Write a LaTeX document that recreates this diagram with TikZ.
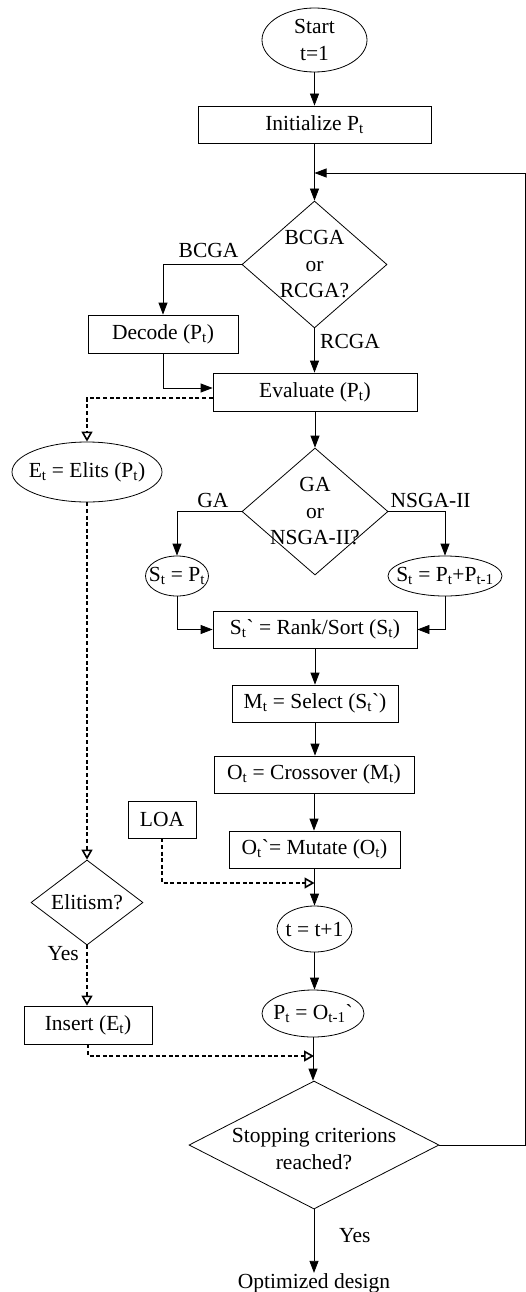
\documentclass[tikz,border=0pt]{standalone}
\usepackage{fontspec}
\setmainfont{Liberation Serif}
\newfontfamily\gfont{Liberation Serif}[Ligatures=TeXOff]
\usetikzlibrary{arrows.meta,shapes.geometric,calc}
\newcommand\ssb[1]{\textsubscript{#1}}
\newcommand\grv{{\gfont\symbol{96}}}
\begin{document}
\begin{tikzpicture}[x=1pt,y=-1pt,
 font=\fontsize{21.5}{26.5}\selectfont,
 every node/.style={inner sep=0pt},
 box/.style={draw, line width=0.8pt, rectangle, minimum width=#1, minimum height=37pt},
 ell/.style={draw, line width=0.8pt, ellipse},
 dia/.style={draw, line width=0.8pt, diamond},
 txt/.style={label={[align=center]center:#1}},
 flow/.style={line width=0.8pt, -{Triangle[length=12pt,width=9pt]}},
 dflow/.style={line width=1.9pt, dash pattern=on 4pt off 2.6pt, -{Triangle[open,length=10pt,width=11pt,line width=1.6pt]}},
]
\useasboundingbox (0,0) rectangle (526,1292);
% nodes
\node[ell, minimum width=105pt, minimum height=64pt, txt={Start\\t=1}] (start) at (314.5,40) {};
\node[box=233pt] (init) at (314.5,124.5) {Initialize P\ssb{t}};
\node[dia, minimum width=145pt, minimum height=127pt, txt={BCGA\\or\\RCGA?}] (d1) at (314.5,264.5) {};
\node[box=150pt, minimum height=38pt] (decode) at (163,334) {Decode (P\ssb{t})};
\node[box=204pt, minimum height=38pt] (eval) at (315,392) {Evaluate (P\ssb{t})};
\node[ell, minimum width=150pt, minimum height=60pt, txt={E\ssb{t} = Elits (P\ssb{t})}] (elits) at (87,472) {};
\node[dia, minimum width=146pt, minimum height=127pt, txt={GA\\or\\NSGA-II?}] (d2) at (315,511.5) {};
\node[ell, minimum width=63pt, minimum height=40pt, txt={S\ssb{t} = P\ssb{t}}] (st1) at (177,576) {};
\node[ell, minimum width=114pt, minimum height=40pt, txt={S\ssb{t} = P\ssb{t}+P\ssb{t-1}}] (st2) at (445,576) {};
\node[box=204pt] (rank) at (315,629.5) {S\ssb{t}\grv{} = Rank/Sort (S\ssb{t})};
\node[box=166pt] (select) at (315,703.5) {M\ssb{t} = Select (S\ssb{t}\grv)};
\node[box=200pt] (cross) at (314,774.5) {O\ssb{t} = Crossover (M\ssb{t})};
\node[box=171pt] (mutate) at (314.5,849.5) {O\ssb{t}\grv= Mutate (O\ssb{t})};
\node[box=68pt] (loa) at (162,819.5) {LOA};
\node[ell, minimum width=75pt, minimum height=46pt, txt={t = t+1}] (tinc) at (314.5,929) {};
\node[ell, minimum width=102pt, minimum height=47pt, txt={P\ssb{t} = O\ssb{t-1}\grv}] (pt) at (313,1013.5) {};
\node[dia, minimum width=112pt, minimum height=85pt, txt={Elitism?}] (elit) at (87,902.5) {};
\node[box=128pt, minimum height=38pt] (insert) at (88,1025) {Insert (E\ssb{t})};
\node[dia, minimum width=250pt, minimum height=128pt,
      label={[align=center,yshift=-4pt]center:Stopping criterions\\reached?}] (d3) at (314,1145) {};
\node[anchor=base] (opt) at (314,1288) {Optimized design};
% labels
\node[anchor=base east] (lb1) at ([xshift=-3pt,yshift=7pt]d1.west) {BCGA};
\node[anchor=base west] (lb2) at (320,348) {RCGA};
\node[anchor=base east] (lb3) at ([xshift=-13pt,yshift=4pt]d2.west) {GA};
\node[anchor=base west] (lb4) at ([xshift=2pt,yshift=4pt]d2.east) {NSGA-II};
\node[anchor=base east] (lb5) at (79,960) {Yes};
\node[anchor=base west] (lb6) at (339,1242) {Yes};
% coordinates
\coordinate (j1) at (314.5,173);
\coordinate (j2) at (314,1056);
\coordinate (j3) at (314.5,883);
\coordinate (rt) at (525.2,1145);
% connectors
\draw[flow] (start.south) -- (init.north);
\draw[flow] (init.south) -- (d1.north);
\draw[flow] (d3.east) -- (rt) |- (j1);
\draw[flow] (d1.west) -| (decode.north);
\draw[flow] (d1.south) -- (d1.south |- eval.north);
\draw[flow] (decode.south) |- ([yshift=4pt]eval.west);
\draw[dflow] ([yshift=-6pt]eval.west) -| (elits.north);
\draw[flow] (eval.south) -- (eval.south |- d2.north);
\draw[flow] (d2.west) -| (st1.north);
\draw[flow] (d2.east) -| (st2.north);
\draw[flow] (st1.south) |- (rank.west);
\draw[flow] (st2.south) |- (rank.east);
\draw[flow] (rank.south) -- (rank.south |- select.north);
\draw[flow] (select.south) -- (select.south |- cross.north);
\draw[flow] (cross.south) -- (cross.south |- mutate.north);
\draw[flow] (mutate.south) -- (mutate.south |- tinc.north);
\draw[dflow] (loa.south) |- (j3);
\draw[flow] (tinc.south) -- (tinc.south |- pt.north);
\draw[flow] (pt.south) -- (pt.south |- d3.north);
\draw[dflow] (elits.south) -- (elits.south |- elit.north);
\draw[dflow] (elit.south) -- (elit.south |- insert.north);
\draw[dflow] (insert.south) |- (j2);
\draw[flow] (d3.south) -- (d3.south |- opt.north);
\end{tikzpicture}
\end{document}
